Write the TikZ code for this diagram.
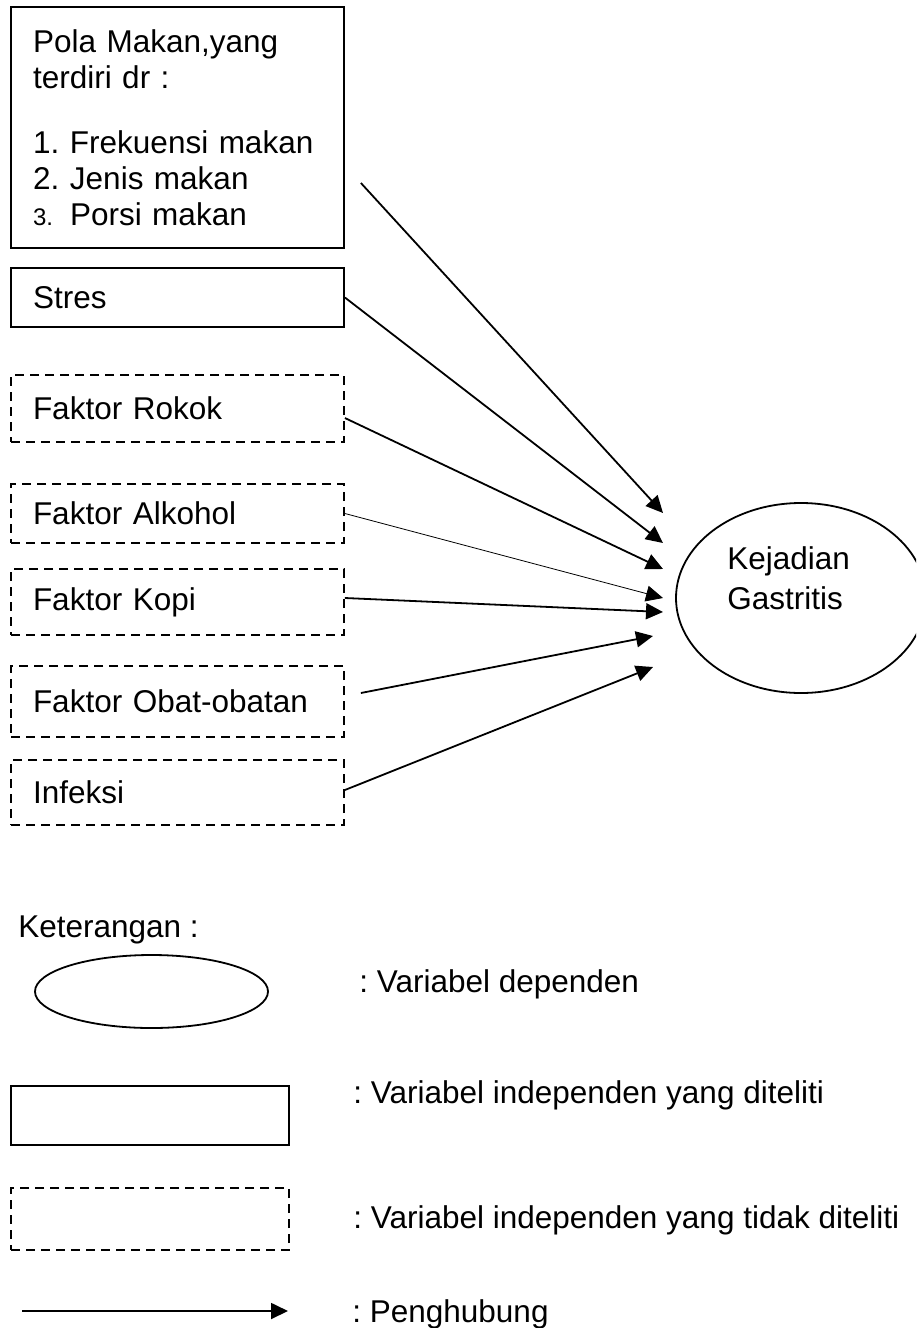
\documentclass[tikz,border=0pt]{standalone}
\usepackage{fontspec}
\setmainfont{Liberation Sans}
\usetikzlibrary{shapes.geometric,arrows.meta}
\frenchspacing

\begin{document}
\begin{tikzpicture}[x=0.5pt,y=-0.5pt,
  every node/.style={font=\fontsize{15.75pt}{18pt}\selectfont},
  varbox/.style={draw,line width=0.9pt,text width=144.5pt,inner xsep=11pt,inner ysep=0pt,align=left},
  dashbox/.style={varbox,dash pattern=on 4.5pt off 3pt},
  lbl/.style={anchor=base west,inner sep=0pt},
  link/.style={line width=0.9pt,-{Triangle[length=8.5pt,width=8pt]}}]
  \clip (0,0) rectangle (916,1328);
  % variabel independen
  \node[varbox,minimum height=120.5pt] (pola) at (177.5,127.5) {Pola Makan,yang\\terdiri dr :\\[14.5pt]
    \makebox[18.5pt][l]{1.}Frekuensi makan\\\makebox[18.5pt][l]{2.}Jenis makan\\
    \makebox[18.5pt][l]{\fontsize{12pt}{18pt}\selectfont 3.}Porsi makan};
  \node[varbox,minimum height=29.5pt] (stres) at (177.5,297.5) {Stres};
  \node[dashbox,minimum height=33.5pt] (rokok) at (177.5,408.5) {Faktor Rokok};
  \node[dashbox,minimum height=29.5pt] (alkohol) at (177.5,513.5) {Faktor Alkohol};
  \node[dashbox,minimum height=33pt] (kopi) at (177.5,602) {Faktor Kopi};
  \node[dashbox,minimum height=35.5pt] (obat) at (177.5,701.5) {Faktor Obat-obatan};
  \node[dashbox,minimum height=32.5pt] (infeksi) at (177.5,792.5) {Infeksi};
  % variabel dependen
  \node[draw,ellipse,line width=0.9pt,inner sep=0pt,minimum width=125pt,minimum height=95pt] (gas) at (801,598) {};
  \node[lbl,align=left,font=\fontsize{15.75pt}{20pt}\selectfont] (gastxt) at (727,609) {Kejadian\\Gastritis};
  \coordinate (t1) at (663,513);
  \coordinate (t2) at (663,543);
  \coordinate (t3) at (663,569);
  \coordinate (t4) at (663,598);
  \coordinate (t5) at (663,612);
  \coordinate (t6) at (653,636);
  \coordinate (t7) at (653,667);
  \draw[link] ([xshift=8pt,yshift=-27.75pt]pola.east) -- (t1);
  \draw[link] (stres.east) -- (t2);
  \draw[link] ([yshift=-4.75pt]rokok.east) -- (t3);
  \draw[link,line width=0.4pt] (alkohol.east) -- (t4);
  \draw[link] ([yshift=2pt]kopi.east) -- (t5);
  \draw[link] ([xshift=8pt,yshift=4.25pt]obat.east) -- (t6);
  \draw[link] ([yshift=1.25pt]infeksi.east) -- (t7);
  % keterangan
  \node[lbl] (ket) at (18,937) {Keterangan :};
  \node[draw,ellipse,line width=0.9pt,inner sep=0pt,minimum width=116.5pt,minimum height=36.5pt] (lgas) at (151.5,991.5) {};
  \node[lbl] (ldep) at (359,992) {: Variabel dependen};
  \node[draw,line width=0.9pt,minimum width=139pt,minimum height=29.5pt] (lbox) at (150,1115.5) {};
  \node[lbl] (lind) at (353,1103) {: Variabel independen yang diteliti};
  \node[draw,line width=0.9pt,dash pattern=on 4.5pt off 3pt,minimum width=139pt,minimum height=31pt] (ldash) at (150,1219) {};
  \node[lbl] (lnot) at (353,1228) {: Variabel independen yang tidak diteliti};
  \coordinate (la) at (22,1311);
  \coordinate (lb) at (288,1311);
  \draw[link] (la) -- (lb);
  \node[lbl] (lhub) at (352,1322) {: Penghubung};
\end{tikzpicture}
\end{document}
